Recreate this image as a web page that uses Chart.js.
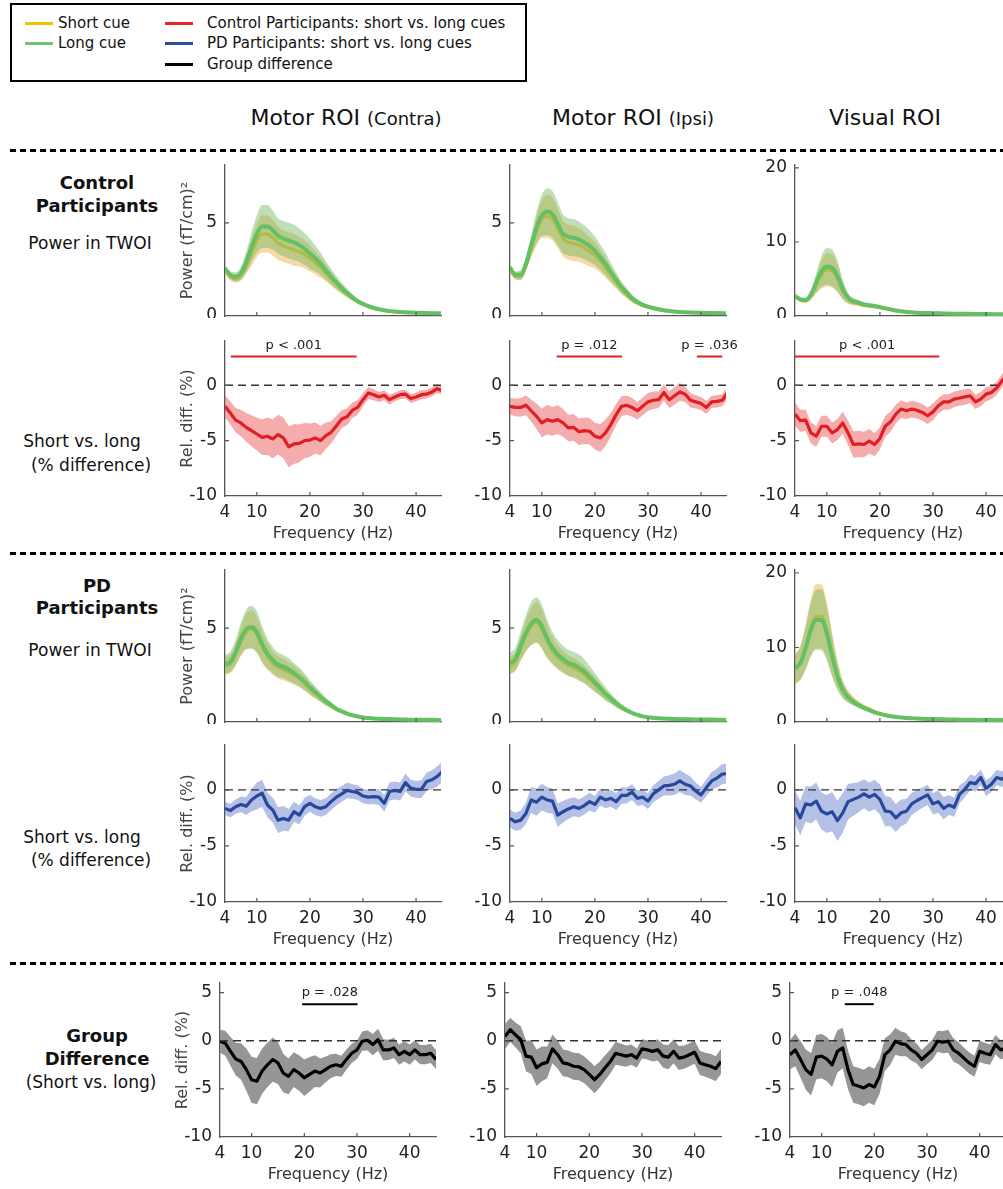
<!DOCTYPE html>
<html>
<head>
<meta charset="utf-8">
<script src="https://cdn.jsdelivr.net/npm/chart.js@4.4.0/dist/chart.umd.min.js"></script>
<style>
  html, body { margin: 0; padding: 0; background: #fff; }
  body { width: 1003px; height: 1189px; position: relative; overflow: hidden;
         font-family: 'DejaVu Sans', Verdana, sans-serif; color: #111; }
  .lbl { position: absolute; transform: translate(-50%, -50%); white-space: nowrap; }
  .row { font-size: 17px; }
  .bold { font-weight: bold; font-size: 18px; }
  .sep { position: absolute; left: 10px; width: 993px; height: 3px;
         background: repeating-linear-gradient(90deg, #000 0 6px, transparent 6px 10px); }
  .legend { position: absolute; left: 10px; top: 3px; width: 513px; height: 75px; border: 2px solid #000; }
  .key { position: absolute; height: 3px; width: 28px; }
  .ktext { position: absolute; font-size: 15px; transform: translateY(-50%); white-space: nowrap; }
  .title { font-size: 22px; }
  .title span { font-size: 18px; }
</style>
</head>
<body>

<div class="legend"></div>
<div class="key" style="left:25px;top:22px;background:#f2c200"></div>
<div class="ktext" style="left:58px;top:23px">Short cue</div>
<div class="key" style="left:25px;top:42px;background:#6cc46c"></div>
<div class="ktext" style="left:58px;top:43px">Long cue</div>
<div class="key" style="left:165px;top:22px;background:#e8262a"></div>
<div class="ktext" style="left:207px;top:23px">Control Participants: short vs. long cues</div>
<div class="key" style="left:165px;top:42px;background:#2e4da0"></div>
<div class="ktext" style="left:207px;top:43px">PD Participants: short vs. long cues</div>
<div class="key" style="left:165px;top:63px;background:#000"></div>
<div class="ktext" style="left:207px;top:64px">Group difference</div>

<div class="lbl title" style="left:346px;top:117px">Motor ROI <span>(Contra)</span></div>
<div class="lbl title" style="left:633px;top:117px">Motor ROI <span>(Ipsi)</span></div>
<div class="lbl title" style="left:885px;top:117px">Visual ROI</div>

<div class="sep" style="top:149px"></div>
<div class="sep" style="top:552px"></div>
<div class="sep" style="top:962px"></div>

<div class="lbl bold" style="left:97px;top:182px">Control</div>
<div class="lbl bold" style="left:97px;top:205px">Participants</div>
<div class="lbl row" style="left:90px;top:243px">Power in TWOI</div>
<div class="lbl row" style="left:82px;top:441px">Short vs. long</div>
<div class="lbl row" style="left:91px;top:465px">(% difference)</div>

<div class="lbl bold" style="left:97px;top:585px">PD</div>
<div class="lbl bold" style="left:97px;top:607px">Participants</div>
<div class="lbl row" style="left:90px;top:650px">Power in TWOI</div>
<div class="lbl row" style="left:82px;top:837px">Short vs. long</div>
<div class="lbl row" style="left:91px;top:860px">(% difference)</div>

<div class="lbl bold" style="left:97px;top:1035px">Group</div>
<div class="lbl bold" style="left:97px;top:1058px">Difference</div>
<div class="lbl row" style="left:91px;top:1082px">(Short vs. long)</div>

<script>
// frequency grids (Hz)
const freqHz = [4,5,6,7,8,9,10,11,12,13,14,15,16,17,18,19,20,21,22,23,24,25,26,27,28,29,30,31,32,33,34,35,36,37,38,39,40,41,42,43,44,45];
const powerHz = [4,5,6,7,8,9,10,11,12,13,14,15,16,17,18,19,20,21,22,23,24,25,26,27,28,29,30,32,34,36,38,40,42,44,45];
const xTicks = [4, 10, 20, 30, 40];
const powerTicks = [0, 5];
const visualPowerTicks = [0, 10, 20];
const diffTicks = [-10, -5, 0];
const groupTicks = [-10, -5, 0, 5];

// Control participants, power in TWOI (fT/cm)^2 : long cue / short cue, mean and s.e.
const ctrlContraLong = [2.55,2.2,2.1,2.3,2.9,3.7,4.4,4.8,4.8,4.6,4.3,4.15,4.05,3.95,3.8,3.6,3.35,3.1,2.8,2.45,2.1,1.8,1.5,1.25,1.0,0.8,0.65,0.43,0.31,0.24,0.2,0.18,0.16,0.15,0.15];
const ctrlContraLongErr = [0.2,0.2,0.25,0.35,0.55,0.8,1.0,1.15,1.15,1.05,0.95,0.95,0.95,0.95,0.9,0.85,0.8,0.7,0.6,0.5,0.42,0.35,0.28,0.22,0.17,0.13,0.1,0.08,0.06,0.05,0.05,0.04,0.04,0.04,0.04];
const ctrlContraShort = [2.45,2.1,2.0,2.2,2.7,3.4,4.05,4.4,4.4,4.2,3.9,3.75,3.65,3.55,3.45,3.3,3.1,2.85,2.6,2.3,2.0,1.7,1.42,1.18,0.95,0.77,0.62,0.41,0.3,0.23,0.19,0.17,0.15,0.14,0.14];
const ctrlContraShortErr = [0.2,0.2,0.22,0.3,0.45,0.7,0.9,1.0,1.0,0.95,0.9,0.85,0.85,0.85,0.8,0.75,0.7,0.62,0.55,0.45,0.38,0.3,0.24,0.19,0.15,0.12,0.09,0.07,0.05,0.05,0.04,0.04,0.04,0.04,0.04];

const ctrlIpsiLong = [2.6,2.2,2.2,2.8,3.8,4.75,5.4,5.6,5.45,4.95,4.4,4.25,4.2,4.1,3.95,3.75,3.5,3.15,2.8,2.35,1.95,1.55,1.25,0.95,0.75,0.6,0.5,0.36,0.27,0.22,0.19,0.17,0.16,0.15,0.15];
const ctrlIpsiLongErr = [0.2,0.2,0.25,0.35,0.55,0.85,1.1,1.25,1.25,1.15,1.05,1.0,1.0,0.95,0.9,0.85,0.75,0.68,0.6,0.5,0.4,0.32,0.25,0.2,0.15,0.12,0.1,0.08,0.06,0.05,0.05,0.04,0.04,0.04,0.04];
const ctrlIpsiShort = [2.5,2.15,2.15,2.7,3.65,4.55,5.2,5.35,5.2,4.7,4.15,3.95,3.9,3.8,3.65,3.45,3.25,2.95,2.6,2.2,1.82,1.45,1.15,0.9,0.7,0.57,0.47,0.34,0.26,0.21,0.18,0.16,0.15,0.14,0.14];
const ctrlIpsiShortErr = [0.2,0.2,0.22,0.32,0.5,0.8,1.0,1.15,1.15,1.05,0.95,0.95,0.95,0.9,0.85,0.8,0.7,0.62,0.55,0.45,0.36,0.28,0.22,0.17,0.13,0.1,0.08,0.07,0.05,0.05,0.04,0.04,0.04,0.04,0.04];

const ctrlVisualLong = [2.7,2.25,2.15,2.9,4.5,6.05,6.7,6.5,5.4,3.6,2.45,2.0,1.8,1.55,1.45,1.35,1.2,1.05,0.9,0.75,0.65,0.55,0.5,0.45,0.42,0.4,0.38,0.35,0.32,0.3,0.28,0.26,0.24,0.22,0.22];
const ctrlVisualLongErr = [0.25,0.25,0.3,0.6,1.3,2.1,2.5,2.5,2.1,1.3,0.7,0.45,0.35,0.3,0.28,0.25,0.22,0.2,0.18,0.15,0.13,0.12,0.1,0.1,0.1,0.09,0.09,0.08,0.08,0.07,0.07,0.07,0.06,0.06,0.06];
const ctrlVisualShort = [2.6,2.15,2.05,2.7,4.2,5.6,6.25,6.1,5.1,3.4,2.3,1.85,1.65,1.45,1.35,1.25,1.12,1.0,0.85,0.72,0.62,0.53,0.48,0.44,0.4,0.38,0.36,0.33,0.3,0.28,0.26,0.25,0.23,0.21,0.21];
const ctrlVisualShortErr = [0.25,0.25,0.3,0.55,1.2,1.9,2.25,2.25,1.9,1.2,0.65,0.42,0.33,0.28,0.26,0.23,0.2,0.18,0.16,0.14,0.12,0.11,0.1,0.09,0.09,0.08,0.08,0.07,0.07,0.06,0.06,0.06,0.05,0.05,0.05];

// PD participants, power in TWOI
const pdContraLong = [3.1,3.2,3.7,4.45,4.95,5.05,4.8,4.15,3.65,3.3,3.05,2.95,2.8,2.6,2.4,2.15,1.85,1.6,1.35,1.1,0.9,0.7,0.57,0.45,0.36,0.3,0.24,0.19,0.16,0.14,0.13,0.12,0.12,0.11,0.11];
const pdContraLongErr = [0.5,0.55,0.65,0.85,1.05,1.15,1.1,0.95,0.8,0.7,0.65,0.62,0.6,0.55,0.5,0.45,0.38,0.32,0.26,0.2,0.16,0.13,0.1,0.08,0.07,0.06,0.05,0.04,0.04,0.04,0.03,0.03,0.03,0.03,0.03];
const pdContraShort = [3.0,3.1,3.6,4.3,4.8,4.95,4.65,4.0,3.5,3.15,2.9,2.8,2.65,2.5,2.3,2.05,1.78,1.52,1.28,1.05,0.85,0.67,0.54,0.43,0.35,0.29,0.24,0.19,0.16,0.14,0.13,0.12,0.11,0.11,0.11];
const pdContraShortErr = [0.5,0.5,0.6,0.8,0.95,1.0,0.95,0.85,0.72,0.65,0.6,0.58,0.55,0.5,0.45,0.4,0.34,0.28,0.23,0.18,0.14,0.11,0.09,0.07,0.06,0.05,0.05,0.04,0.04,0.03,0.03,0.03,0.03,0.03,0.03];

const pdIpsiLong = [3.15,3.35,4.05,4.75,5.25,5.45,5.1,4.45,3.95,3.6,3.35,3.15,3.05,2.9,2.7,2.4,2.1,1.8,1.5,1.25,1.0,0.8,0.62,0.48,0.38,0.3,0.25,0.2,0.17,0.15,0.14,0.13,0.13,0.12,0.12];
const pdIpsiLongErr = [0.55,0.6,0.75,0.95,1.15,1.2,1.15,1.0,0.85,0.75,0.7,0.7,0.7,0.7,0.65,0.58,0.5,0.42,0.35,0.28,0.22,0.17,0.13,0.1,0.08,0.07,0.06,0.05,0.04,0.04,0.04,0.03,0.03,0.03,0.03];
const pdIpsiShort = [3.0,3.2,3.9,4.6,5.1,5.3,4.95,4.3,3.8,3.45,3.2,3.0,2.9,2.75,2.55,2.28,2.0,1.72,1.43,1.2,0.96,0.77,0.6,0.47,0.37,0.3,0.25,0.2,0.17,0.15,0.14,0.13,0.12,0.12,0.12];
const pdIpsiShortErr = [0.45,0.5,0.65,0.85,1.0,1.1,1.05,0.9,0.75,0.65,0.6,0.55,0.5,0.48,0.45,0.42,0.38,0.32,0.27,0.22,0.18,0.14,0.11,0.09,0.07,0.06,0.05,0.04,0.04,0.04,0.03,0.03,0.03,0.03,0.03];

const pdVisualLong = [7.2,7.9,9.9,12.4,13.7,13.7,11.9,8.8,6.1,4.3,3.3,2.7,2.25,1.9,1.6,1.3,1.1,0.9,0.77,0.68,0.6,0.54,0.5,0.46,0.43,0.41,0.39,0.36,0.33,0.31,0.29,0.27,0.26,0.25,0.25];
const pdVisualLongErr = [1.9,2.2,2.9,3.6,4.0,4.1,3.6,2.7,1.8,1.1,0.7,0.5,0.4,0.33,0.28,0.23,0.2,0.17,0.15,0.13,0.12,0.11,0.1,0.1,0.09,0.09,0.08,0.08,0.07,0.07,0.07,0.06,0.06,0.06,0.06];
const pdVisualShort = [7.0,7.9,10.1,12.8,14.2,14.2,12.3,9.1,6.4,4.5,3.45,2.85,2.35,2.0,1.7,1.4,1.15,0.95,0.8,0.7,0.62,0.56,0.51,0.47,0.44,0.41,0.39,0.36,0.33,0.31,0.29,0.27,0.26,0.25,0.25];
const pdVisualShortErr = [2.0,2.3,3.0,3.8,4.3,4.3,3.8,2.9,1.9,1.2,0.8,0.6,0.45,0.38,0.3,0.25,0.21,0.18,0.16,0.14,0.12,0.11,0.1,0.1,0.09,0.09,0.08,0.08,0.07,0.07,0.07,0.06,0.06,0.06,0.06];

// short vs. long relative difference (%), mean and s.e.
const ctrlContraDiff = [-1.9,-2.5,-3.15,-3.4,-3.8,-4.1,-4.4,-4.7,-4.6,-4.85,-4.45,-4.75,-5.55,-5.3,-5.25,-5.0,-4.95,-4.75,-5.0,-4.55,-4.25,-3.65,-3.05,-2.85,-2.25,-2.0,-1.3,-0.7,-0.85,-1.05,-0.9,-1.3,-1.05,-0.85,-0.8,-1.2,-1.05,-0.85,-0.8,-0.6,-0.3,-0.5];
const ctrlContraDiffErr = [1.0,1.05,1.1,1.2,1.3,1.4,1.5,1.6,1.7,1.75,1.8,1.85,1.85,1.8,1.7,1.6,1.5,1.4,1.35,1.2,1.0,0.9,0.8,0.75,0.7,0.65,0.6,0.55,0.5,0.45,0.45,0.45,0.4,0.4,0.4,0.4,0.4,0.4,0.4,0.4,0.4,0.4];
const ctrlIpsiDiff = [-1.9,-2.0,-2.0,-1.8,-2.3,-2.8,-3.4,-3.1,-3.25,-3.1,-3.4,-3.85,-3.8,-4.2,-4.1,-4.15,-4.6,-4.75,-4.3,-3.55,-2.65,-1.9,-1.8,-2.0,-2.3,-1.9,-1.5,-1.35,-1.3,-0.65,-1.3,-0.95,-0.6,-0.8,-1.35,-1.5,-1.65,-2.0,-1.5,-1.45,-1.35,-0.65];
const ctrlIpsiDiffErr = [0.75,0.8,0.85,0.9,1.0,1.15,1.3,1.35,1.3,1.3,1.25,1.2,1.2,1.2,1.2,1.2,1.2,1.25,1.2,1.05,0.95,0.9,0.85,0.85,0.8,0.8,0.8,0.8,0.75,0.75,0.75,0.8,0.8,0.7,0.65,0.6,0.6,0.6,0.55,0.55,0.55,0.55];
const ctrlVisualDiff = [-2.6,-3.2,-3.15,-4.3,-4.6,-3.7,-3.7,-4.3,-4.0,-3.4,-4.3,-5.35,-5.3,-5.35,-5.05,-5.35,-4.8,-3.7,-3.3,-2.6,-2.15,-2.3,-2.15,-2.25,-2.45,-2.75,-2.4,-1.85,-1.5,-1.5,-1.25,-1.15,-1.05,-0.95,-1.5,-1.25,-0.8,-0.65,-0.25,0.4,1.0,1.3];
const ctrlVisualDiffErr = [1.05,1.0,0.95,0.95,0.95,0.95,0.95,0.95,0.95,1.0,1.1,1.2,1.2,1.15,1.1,1.05,1.0,0.95,0.9,0.85,0.8,0.75,0.75,0.75,0.75,0.75,0.75,0.7,0.7,0.7,0.7,0.7,0.7,0.65,0.65,0.65,0.65,0.6,0.6,0.6,0.6,0.6];

const pdContraDiff = [-1.65,-1.85,-1.5,-1.3,-1.45,-0.9,-0.55,-0.3,-1.35,-1.8,-2.7,-2.55,-2.7,-1.95,-2.25,-1.5,-1.2,-1.5,-1.65,-1.5,-1.05,-0.65,-0.35,-0.05,-0.15,-0.25,-0.55,-0.65,-0.6,-0.65,-1.2,-0.15,-0.05,-0.15,0.65,0.15,0.05,0.05,0.75,0.9,1.2,1.65];
const pdContraDiffErr = [0.6,0.6,0.65,0.7,0.8,1.0,1.2,1.2,1.1,1.1,1.15,1.1,1.0,0.9,0.85,0.8,0.75,0.75,0.75,0.75,0.75,0.75,0.7,0.7,0.65,0.65,0.65,0.65,0.65,0.7,0.75,0.8,0.8,0.8,0.8,0.75,0.75,0.8,0.8,0.85,0.9,0.9];
const pdIpsiDiff = [-2.55,-2.85,-2.7,-2.1,-0.9,-1.1,-0.65,-0.9,-1.0,-2.25,-1.95,-1.7,-1.5,-1.65,-1.4,-1.05,-1.3,-0.65,-0.9,-0.75,-1.05,-0.5,-0.5,-0.2,-0.75,-0.65,-1.0,-0.35,0.0,0.35,0.4,0.5,0.8,0.5,0.35,-0.1,-0.45,0.2,0.8,1.05,1.4,1.45];
const pdIpsiDiffErr = [0.8,0.8,0.85,0.95,1.15,1.2,1.2,1.15,1.1,1.05,0.95,0.9,0.85,0.8,0.8,0.8,0.75,0.75,0.75,0.75,0.75,0.75,0.7,0.7,0.7,0.7,0.7,0.75,0.8,0.85,0.9,0.95,1.0,0.95,0.85,0.75,0.7,0.75,0.8,0.85,0.9,0.9];
const pdVisualDiff = [-1.6,-2.5,-1.25,-1.35,-1.0,-1.9,-2.15,-1.95,-2.75,-2.05,-1.05,-0.85,-0.65,-0.35,-0.65,-0.4,-0.85,-1.9,-1.95,-2.5,-2.05,-1.9,-1.25,-0.95,-0.7,-0.45,-1.25,-1.05,-1.65,-1.35,-1.55,-0.4,0.05,0.65,0.55,1.1,0.15,0.5,1.1,0.95,1.25,1.4];
const pdVisualDiffErr = [1.5,1.55,1.6,1.65,1.65,1.65,1.7,1.75,1.8,1.75,1.6,1.45,1.35,1.3,1.3,1.3,1.35,1.35,1.3,1.25,1.2,1.1,1.0,0.95,0.9,0.9,0.95,1.0,1.0,0.9,0.85,0.8,0.7,0.7,0.7,0.7,0.7,0.7,0.7,0.7,0.7,0.7];

// group difference (control minus PD), relative difference (%)
const groupContraDiff = [-0.05,-0.25,-1.1,-1.9,-2.15,-3.0,-4.05,-4.2,-3.15,-2.5,-1.95,-2.3,-3.35,-3.7,-3.0,-3.35,-3.85,-3.5,-3.15,-3.35,-3.0,-2.65,-2.5,-2.65,-1.95,-1.3,-0.95,-0.05,0.05,-0.4,0.1,-0.95,-0.95,-0.75,-1.45,-1.1,-1.45,-0.95,-1.45,-1.45,-1.3,-1.95];
const groupContraDiffErr = [1.2,1.3,1.5,1.7,1.9,2.2,2.4,2.4,2.35,2.3,2.3,2.2,2.0,1.85,1.8,1.85,1.9,1.8,1.65,1.5,1.35,1.25,1.15,1.1,1.05,1.0,0.95,1.0,1.05,1.1,1.15,1.1,1.05,1.05,1.05,1.05,1.05,1.0,1.0,1.0,1.0,1.0];
const groupIpsiDiff = [0.45,1.15,0.6,0.1,-1.6,-1.7,-2.8,-2.4,-2.25,-0.85,-1.45,-2.3,-2.4,-2.65,-2.7,-3.0,-3.5,-4.05,-3.5,-2.8,-2.15,-1.3,-1.45,-1.6,-1.45,-1.8,-0.85,-0.95,-1.1,-0.95,-1.6,-1.7,-1.1,-1.8,-1.7,-1.45,-1.2,-2.3,-2.5,-2.65,-2.9,-2.15];
const groupIpsiDiffErr = [1.3,1.25,1.3,1.4,1.6,1.75,1.9,1.8,1.65,1.5,1.45,1.4,1.4,1.4,1.4,1.4,1.4,1.4,1.35,1.3,1.25,1.2,1.15,1.1,1.05,1.0,1.0,1.0,1.05,1.1,1.2,1.25,1.25,1.25,1.2,1.2,1.2,1.25,1.25,1.3,1.3,1.3];
const groupVisualDiff = [-1.45,-0.95,-1.95,-3.0,-3.5,-1.7,-1.6,-1.9,-2.5,-1.1,-0.75,-3.0,-4.55,-4.7,-4.9,-4.55,-4.8,-3.7,-1.45,-0.95,-0.05,-0.3,-0.4,-0.95,-1.3,-1.95,-1.45,-0.95,-0.05,-0.15,-0.05,-0.95,-1.3,-1.8,-2.3,-2.65,-1.1,-1.3,-1.45,-0.4,-0.95,-0.75];
const groupVisualDiffErr = [1.5,1.7,1.9,2.1,2.2,2.3,2.3,2.3,2.3,2.2,2.1,2.0,1.9,1.9,1.9,1.9,1.9,1.8,1.7,1.6,1.4,1.3,1.2,1.1,1.05,1.0,1.0,1.05,1.1,1.15,1.2,1.2,1.15,1.1,1.1,1.1,1.1,1.1,1.05,1.0,1.0,1.0];

// cluster-level significance: frequency range (Hz) and p-value text
const ctrlContraSig = [{ from: 5.1, to: 28.8, label: 'p < .001' }];
const ctrlIpsiSig = [{ from: 12.8, to: 25.1, label: 'p = .012' }, { from: 39.2, to: 44.0, label: 'p = .036' }];
const ctrlVisualSig = [{ from: 4.0, to: 31.2, label: 'p < .001' }];
const groupContraSig = [{ from: 19.6, to: 30.1, label: 'p = .028' }];
const groupVisualSig = [{ from: 14.4, to: 19.9, label: 'p = .048' }];

// ---- drawing ----
Chart.defaults.font.family = "'DejaVu Sans', Verdana, sans-serif";
const AXIS = '#555';
const Y_GUTTER = 60, PAD_TOP = 8, PAD_RIGHT = 20, PLOT_W = 216;
const LONG = 'rgb(100,192,100)', LONG_BAND = 'rgba(110,185,95,0.45)';
const SHORT = 'rgb(232,190,40)', SHORT_BAND = 'rgba(235,170,60,0.45)';
const RED = 'rgb(225,30,35)', RED_BAND = 'rgba(235,90,90,0.5)';
const BLUE = 'rgb(40,72,155)', BLUE_BAND = 'rgba(90,115,200,0.45)';
const BLACK = '#000', GREY_BAND = 'rgb(150,150,150)';

const pts = (xs, ys) => xs.map((x, i) => ({ x, y: ys[i] }));
const edge = (xs, m, e, s) => xs.map((x, i) => ({ x, y: m[i] + s * e[i] }));

function powerSets(longM, longE, shortM, shortE) {
  const smooth = { tension: 0.4, cubicInterpolationMode: 'monotone' };
  return [
    { data: pts(powerHz, longM), borderColor: LONG, borderWidth: 4, order: 0, ...smooth },
    { data: edge(powerHz, longM, longE, 1), fill: '+1', backgroundColor: LONG_BAND, borderWidth: 0, order: 1, ...smooth },
    { data: edge(powerHz, longM, longE, -1), borderWidth: 0, order: 1, ...smooth },
    { data: pts(powerHz, shortM), borderColor: SHORT, borderWidth: 3, order: 2, ...smooth },
    { data: edge(powerHz, shortM, shortE, 1), fill: '+1', backgroundColor: SHORT_BAND, borderWidth: 0, order: 3, ...smooth },
    { data: edge(powerHz, shortM, shortE, -1), borderWidth: 0, order: 3, ...smooth }
  ];
}

function diffSets(mean, err, color, band, sig, sigLevel, xMax) {
  const sets = [
    { data: pts(freqHz, mean), borderColor: color, borderWidth: 3.2, order: 0 },
    { data: [{ x: 4, y: 0 }, { x: xMax, y: 0 }], borderColor: '#333', borderWidth: 1.4, borderDash: [8, 5], order: 1 },
    { data: edge(freqHz, mean, err, 1), fill: '+1', backgroundColor: band, borderWidth: 0, order: 2 },
    { data: edge(freqHz, mean, err, -1), borderWidth: 0, order: 2 }
  ];
  sig.forEach(s => sets.push({ data: [{ x: s.from, y: sigLevel }, { x: s.to, y: sigLevel }], borderColor: color, borderWidth: 2, order: 0 }));
  return sets;
}

// MATLAB-like tick marks pointing into the plot
const inwardTicks = {
  id: 'inwardTicks',
  afterDraw(chart) {
    const { ctx, chartArea: a, scales: { x, y } } = chart;
    ctx.save();
    ctx.strokeStyle = AXIS; ctx.lineWidth = 1.2;
    ctx.beginPath();
    x.ticks.forEach(t => { if (t.value <= x.min) return; const px = x.getPixelForValue(t.value); ctx.moveTo(px, a.bottom); ctx.lineTo(px, a.bottom - 4); });
    y.ticks.forEach(t => { if (t.value <= y.min) return; const py = y.getPixelForValue(t.value); ctx.moveTo(a.left, py); ctx.lineTo(a.left + 4, py); });
    ctx.stroke();
    ctx.restore();
  }
};

// p-value text above each significance bar
const sigLabels = {
  id: 'sigLabels',
  afterDatasetsDraw(chart, args, opts) {
    const { ctx, scales: { x, y } } = chart;
    ctx.save();
    ctx.font = "13px 'DejaVu Sans'"; ctx.fillStyle = '#222';
    ctx.textAlign = 'center'; ctx.textBaseline = 'middle';
    (opts.items || []).forEach(s => ctx.fillText(s.label, x.getPixelForValue((s.from + s.to) / 2), y.getPixelForValue(opts.textLevel)));
    ctx.restore();
  }
};

// fixed gutters so every plot area lands at the same place; no label overflow padding
const fixWidth = w => s => { s.width = w; s.paddingTop = 0; s.paddingBottom = 0; };
const fixHeight = h => s => { s.height = h; s.paddingLeft = 0; s.paddingRight = 0; };

function addPanel(p) {
  const xH = p.showX ? 52 : 2;
  const w = Y_GUTTER + PLOT_W + PAD_RIGHT;
  const h = PAD_TOP + p.plotH + xH;
  const canvas = document.createElement('canvas');
  canvas.width = w; canvas.height = h;
  canvas.style.cssText = `position:absolute;left:${p.axisX - Y_GUTTER}px;top:${p.axisTop - PAD_TOP}px;width:${w}px;height:${h}px`;
  document.body.appendChild(canvas);

  new Chart(canvas, {
    type: 'line',
    data: { datasets: p.datasets },
    options: {
      responsive: false, animation: false, devicePixelRatio: 1,
      layout: { padding: { top: PAD_TOP, right: PAD_RIGHT, left: 0, bottom: 0 } },
      elements: { point: { radius: 0 }, line: { borderJoinStyle: 'round' } },
      plugins: {
        legend: { display: false }, tooltip: { enabled: false },
        sigLabels: { items: p.sig || [], textLevel: p.textLevel }
      },
      scales: {
        x: {
          type: 'linear', min: 4, max: p.xMax,
          afterBuildTicks: s => { s.ticks = xTicks.map(v => ({ value: v })); },
          afterFit: fixHeight(xH),
          grid: { display: false, drawTicks: false },
          border: { color: AXIS, width: 1.3 },
          ticks: { display: p.showX, autoSkip: false, maxRotation: 0, font: { size: 17 }, color: '#222', padding: 6 },
          title: { display: p.showX, text: 'Frequency (Hz)', font: { size: 16 }, color: '#333', padding: { top: 0, bottom: 5 } }
        },
        y: {
          type: 'linear', min: p.yMin, max: p.yMax,
          afterBuildTicks: s => { s.ticks = p.yTicks.map(v => ({ value: v })); },
          afterFit: fixWidth(Y_GUTTER),
          grid: { display: false, drawTicks: false },
          border: { color: AXIS, width: 1.3 },
          ticks: { font: { size: 17 }, color: '#222', padding: 8 },
          title: { display: !!p.yTitle, text: p.yTitle || '', font: { size: 16 }, color: '#444', padding: { top: 13, bottom: 0 } }
        }
      }
    },
    plugins: [inwardTicks, sigLabels]
  });
}

const colX = [225, 510, 795];
const groupColX = [220, 505, 790];

// Control: power
[[ctrlContraLong, ctrlContraLongErr, ctrlContraShort, ctrlContraShortErr, 8.1, powerTicks],
 [ctrlIpsiLong, ctrlIpsiLongErr, ctrlIpsiShort, ctrlIpsiShortErr, 8.1, powerTicks],
 [ctrlVisualLong, ctrlVisualLongErr, ctrlVisualShort, ctrlVisualShortErr, 20.4, visualPowerTicks]
].forEach((c, i) => addPanel({
  axisX: colX[i], axisTop: 165, plotH: 151, xMax: 44.7, yMin: 0, yMax: c[4], yTicks: c[5],
  showX: false, yTitle: i === 0 ? 'Power (fT/cm)²' : null,
  datasets: powerSets(c[0], c[1], c[2], c[3])
}));

// Control: short vs. long
[[ctrlContraDiff, ctrlContraDiffErr, ctrlContraSig],
 [ctrlIpsiDiff, ctrlIpsiDiffErr, ctrlIpsiSig],
 [ctrlVisualDiff, ctrlVisualDiffErr, ctrlVisualSig]
].forEach((c, i) => addPanel({
  axisX: colX[i], axisTop: 341, plotH: 155, xMax: 44.7, yMin: -10, yMax: 4, yTicks: diffTicks,
  showX: true, yTitle: i === 0 ? 'Rel. diff. (%)' : null, sig: c[2], textLevel: 3.6,
  datasets: diffSets(c[0], c[1], RED, RED_BAND, c[2], 2.6, 44.7)
}));

// PD: power
[[pdContraLong, pdContraLongErr, pdContraShort, pdContraShortErr, 8.1, powerTicks],
 [pdIpsiLong, pdIpsiLongErr, pdIpsiShort, pdIpsiShortErr, 8.1, powerTicks],
 [pdVisualLong, pdVisualLongErr, pdVisualShort, pdVisualShortErr, 20.4, visualPowerTicks]
].forEach((c, i) => addPanel({
  axisX: colX[i], axisTop: 570, plotH: 152, xMax: 44.7, yMin: 0, yMax: c[4], yTicks: c[5],
  showX: false, yTitle: i === 0 ? 'Power (fT/cm)²' : null,
  datasets: powerSets(c[0], c[1], c[2], c[3])
}));

// PD: short vs. long
[[pdContraDiff, pdContraDiffErr], [pdIpsiDiff, pdIpsiDiffErr], [pdVisualDiff, pdVisualDiffErr]
].forEach((c, i) => addPanel({
  axisX: colX[i], axisTop: 745, plotH: 157, xMax: 44.7, yMin: -10, yMax: 4, yTicks: diffTicks,
  showX: true, yTitle: i === 0 ? 'Rel. diff. (%)' : null,
  datasets: diffSets(c[0], c[1], BLUE, BLUE_BAND, [], 0, 44.7)
}));

// group difference
[[groupContraDiff, groupContraDiffErr, groupContraSig],
 [groupIpsiDiff, groupIpsiDiffErr, []],
 [groupVisualDiff, groupVisualDiffErr, groupVisualSig]
].forEach((c, i) => addPanel({
  axisX: groupColX[i], axisTop: 983, plotH: 154, xMax: 45, yMin: -10, yMax: 6, yTicks: groupTicks,
  showX: true, yTitle: i === 0 ? 'Rel. diff. (%)' : null, sig: c[2], textLevel: 5.0,
  datasets: diffSets(c[0], c[1], BLACK, GREY_BAND, c[2], 3.8, 45)
}));
</script>
</body>
</html>
